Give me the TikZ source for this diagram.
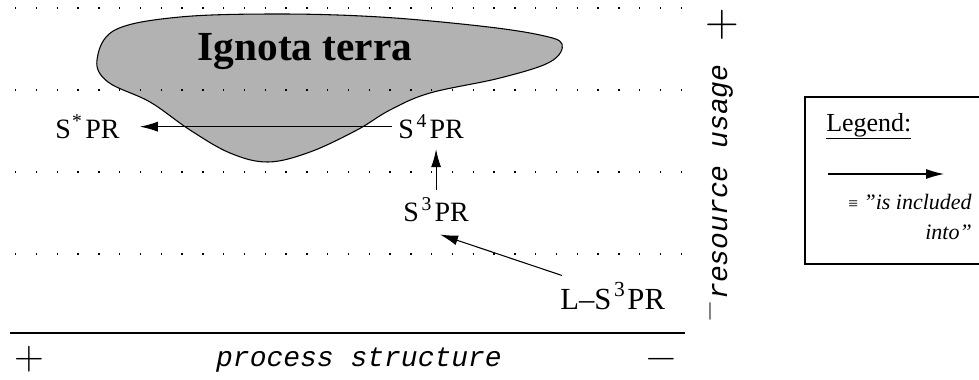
\documentclass[tikz,border=0pt]{standalone}
\usepackage{fontspec}
\setmainfont{Liberation Serif}
\setmonofont{Liberation Mono}
\usetikzlibrary{arrows.meta,calc}
\begin{document}
\begin{tikzpicture}[x=0.75pt,y=-0.75pt,
 lbl/.style={inner sep=0pt,font=\fontsize{21}{24}\selectfont},
 arr/.style={-{Latex[length=13.5pt,width=7.5pt]},line width=0.8pt},
 dots/.style={line width=1.1pt,dash pattern=on 1.1pt off 14.5pt},
 axis/.style={font=\fontsize{21}{24}\selectfont\ttfamily\itshape,inner sep=0pt},
 sign/.style={font=\fontfamily{lmr}\fontsize{35}{38}\selectfont,inner sep=0pt},
 lowsign/.style={sign,font=\fontfamily{lmr}\fontsize{31}{34}\selectfont,anchor=base,text depth=0pt,text height=0.6em}]
\useasboundingbox (0,0) rectangle (979,379);
% blob
\filldraw[fill=gray!60, line width=0.8pt] plot[smooth cycle, tension=0.6] coordinates {
 (97,60) (115,30) (180,17) (280,14) (380,17) (480,26) (540,35) (562,44) (550,62)
 (500,78) (430,93) (390,110) (357,130) (310,152) (268,162) (230,153) (190,130)
 (150,102) (108,82)};
\node[font=\fontsize{31}{34}\selectfont\bfseries, inner sep=0pt] (ig) at (305,52) {Ignota terra};
% dotted lines
\foreach \y in {8,90,172,254} \draw[dots] (15,\y) -- (685,\y);
% nodes
\node[lbl,anchor=base west] (sstar) at (55,138) {S\kern1pt\textsuperscript{*}\kern2pt PR};
\node[lbl,anchor=base west] (s4) at (398,138) {S\kern2pt\textsuperscript{4}\kern2pt PR};
\node[lbl,anchor=base west] (s3) at (403,221) {S\kern2pt\textsuperscript{3}\kern2pt PR};
\node[lbl,anchor=base west,font=\fontsize{23}{26}\selectfont] (ls3) at (560,309) {L--S\kern2pt\textsuperscript{3}\kern1.5pt PR};
% arrows
\draw[arr,shorten <=4.5pt,shorten >=15pt] (s4.west) -- (s4.west -| sstar.east);
\draw[arr,shorten <=6pt,shorten >=8pt] (s3.north) -- (s3.north |- s4.south);
\draw[arr] ($(ls3.north west)+(2,-7)$) -- ($(s3.south)+(4,13)$);
% axes
\draw[line width=0.8pt] (10,333) -- (685,333);
\node[axis,anchor=base] (px) at (359,366) {process structure};
\node[lowsign] (pplus) at (29,369) {+};
\node[lowsign] (pminus) at (661,369) {−};
\node[sign] (rplus) at (722,25) {+};
\node[axis,rotate=90,anchor=base] (ru) at (727,182) {resource usage};
\node[sign,rotate=90,font=\fontfamily{lmr}\fontsize{21}{23}\selectfont] (rminus) at (714,311) {−};
% legend
\draw[line width=0.8pt] (805,97) rectangle (990,264);
\node[lbl,anchor=base west,font=\fontsize{19.5}{22}\selectfont] (leg) at (826,131) {\underline{Legend:}};
\coordinate (la) at (828,174);
\coordinate (lb) at (944,174);
\draw[arr] (la) -- (lb);
\node[anchor=east, align=right, inner sep=0pt, font=\fontsize{16.5}{22}\selectfont\itshape] (legtxt) at (972,217) {{\upshape\fontsize{13}{14}\selectfont ≡} "is included\\ into"};
\end{tikzpicture}
\end{document}
